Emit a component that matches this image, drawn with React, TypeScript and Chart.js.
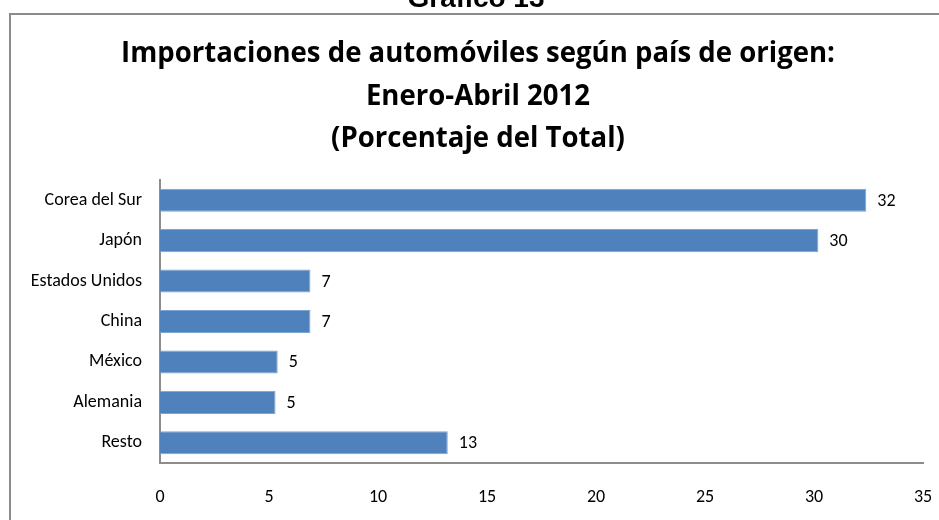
import React, { useEffect, useRef } from "react";
import { Chart, registerables } from "chart.js";

Chart.register(...registerables);

const categories = ["Corea del Sur", "Japón", "Estados Unidos", "China", "México", "Alemania", "Resto"];
const values = [32.4, 30.2, 6.9, 6.9, 5.4, 5.3, 13.2];
const xTicks = [0, 5, 10, 15, 20, 25, 30, 35];
const titleLines = [
  "Importaciones de automóviles según país de origen:",
  "Enero-Abril 2012",
  "(Porcentaje del Total)",
];
const headerText = "Gráfico 13";

const FONT = "Carlito, Calibri, Lato, 'Open Sans', sans-serif";
const TITLE_FONT = "'Open Sans', Lato, sans-serif";

export default function App() {
  const ref = useRef<HTMLCanvasElement | null>(null);

  useEffect(() => {
    if (!ref.current) return;
    const framePlugin = {
      id: "frame",
      beforeDraw(chart: any) {
        const ctx = chart.ctx;
        ctx.save();
        ctx.fillStyle = "#ffffff";
        ctx.fillRect(0, 0, chart.width, chart.height);
        ctx.strokeStyle = "#8c8c8c";
        ctx.lineWidth = 2;
        ctx.beginPath();
        ctx.moveTo(10, chart.height);
        ctx.lineTo(10, 14);
        ctx.lineTo(chart.width, 14);
        ctx.stroke();
        ctx.fillStyle = "#000";
        ctx.font = "bold 28px 'Liberation Sans', Arial, sans-serif";
        ctx.textAlign = "center";
        ctx.textBaseline = "alphabetic";
        ctx.fillText(headerText, 476, 7);
        ctx.font = `bold 29px ${TITLE_FONT}`;
        const ys = [62, 105, 147];
        const sx = 0.95;
        titleLines.forEach((t, i) => {
          ctx.save();
          ctx.translate(478, ys[i]);
          ctx.scale(sx, 1);
          ctx.fillText(t, 0, 0);
          ctx.restore();
        });
        ctx.restore();
      },
    };
    const labelPlugin = {
      id: "barLabels",
      afterDatasetsDraw(chart: any) {
        const ctx = chart.ctx;
        const meta = chart.getDatasetMeta(0);
        ctx.save();
        ctx.fillStyle = "#000";
        ctx.font = `18px ${FONT}`;
        ctx.textAlign = "left";
        ctx.textBaseline = "middle";
        meta.data.forEach((el: any, i: number) => {
          ctx.fillText(String(Math.round(values[i])), el.x + 11, el.y + 1);
        });
        ctx.restore();
      },
    };
    const chart = new Chart(ref.current, {
      type: "bar",
      data: {
        labels: categories,
        datasets: [
          {
            data: values,
            backgroundColor: "#4F81BD",
            borderColor: "#7BA3D3",
            borderWidth: 1,
            barPercentage: 0.57,
            categoryPercentage: 1,
          },
        ],
      },
      options: {
        indexAxis: "y",
        responsive: false,
        animation: false,
        layout: { padding: { top: 180, left: 10, right: 16, bottom: 0 } },
        plugins: {
          legend: { display: false },
          title: { display: false },
          tooltip: { enabled: false },
        },
        scales: {
          x: {
            min: 0,
            max: 35,
            afterBuildTicks(scale: any) {
              scale.ticks = xTicks.map((v) => ({ value: v }));
            },
            afterFit(scale: any) {
              scale.height = 57;
              scale.paddingLeft = 0;
              scale.paddingRight = 0;
            },
            grid: { display: false, drawTicks: false },
            border: { display: true, color: "#8c8c8c", width: 2 },
            ticks: {
              padding: 24,
              color: "#000",
              font: { family: FONT, size: 18 },
              maxRotation: 0,
            },
          },
          y: {
            afterFit(scale: any) {
              scale.width = 150;
            },
            grid: { display: false, drawTicks: false },
            border: { display: true, color: "#8c8c8c", width: 2 },
            ticks: {
              padding: 18,
              color: "#000",
              font: { family: FONT, size: 18 },
            },
          },
        },
      },
      plugins: [framePlugin, labelPlugin],
    });
    return () => chart.destroy();
  }, []);

  return (
    <div style={{ position: "absolute", left: 0, top: 0, width: 939, height: 520 }}>
      <canvas ref={ref} width={939} height={520} style={{ width: 939, height: 520 }} />
    </div>
  );
}
